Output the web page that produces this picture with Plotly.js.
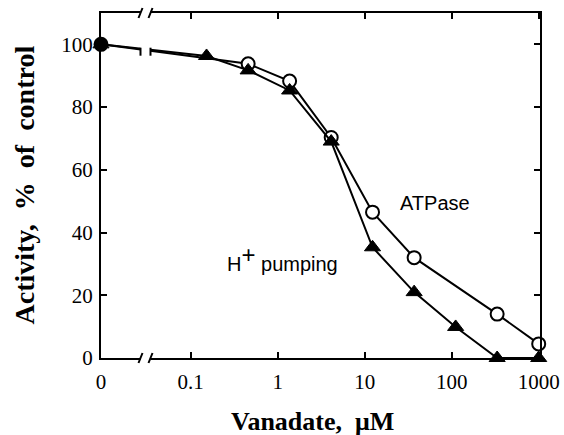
<!DOCTYPE html>
<html>
<head>
<meta charset="utf-8">
<script src="https://cdn.plot.ly/plotly-3.0.1.min.js"></script>
<style>html,body{margin:0;padding:0;background:#fff;}#chart{width:564px;height:435px;}</style>
</head>
<body>
<div id="chart"></div>
<script>
// Data (vanadate concentration in µM; 0 = control)
const atpaseX = [0, 0.457, 1.37, 4.12, 12.3, 37, 333, 1000];
const atpaseY = [100, 93.8, 88.3, 70.3, 46.5, 32.0, 14.0, 4.5];
const pumpX = [0, 0.152, 0.457, 1.37, 4.12, 12.3, 37, 111, 333, 1000];
const pumpY = [100, 96.3, 91.7, 85.3, 69.0, 35.3, 21.0, 9.9, 0, 0];
const xTickVals = [0, 0.1, 1, 10, 100, 1000];
const xTickText = ['0', '0.1', '1', '10', '100', '1000'];
const yTickVals = [0, 20, 40, 60, 80, 100];

// placement of "0" on the log axis (broken axis)
const ZERO_X = 0.0093;
const mapX = v => v === 0 ? ZERO_X : v;
const r0 = Math.log10(ZERO_X), r1 = 3.015;
const BREAK_LOG = -1.52;

const W = 564, H = 435, M = {l: 101, r: 24, t: 13, b: 77};
const PW = W - M.l - M.r, PH = H - M.t - M.b;
const px = lg => (lg - r0) / (r1 - r0);          // log value -> paper x
const dxp = p => p / PW, dyp = p => p / PH;       // pixel offsets -> paper

const font = 'Liberation Serif, Times New Roman, serif';
const sans = 'Liberation Sans, Arial, Helvetica, sans-serif';

const traces = [
  {
    x: atpaseX.map(mapX), y: atpaseY, type: 'scatter', mode: 'lines+markers',
    line: {color: '#000', width: 2},
    marker: {symbol: 'circle', size: 13,
      color: atpaseX.map(v => v === 0 ? '#000' : '#fff'),
      line: {color: '#000', width: 2}},
    cliponaxis: false, showlegend: false, hoverinfo: 'skip'
  },
  {
    x: pumpX.map(mapX), y: pumpY, type: 'scatter', mode: 'lines+markers',
    line: {color: '#000', width: 2},
    marker: {symbol: 'triangle-up', size: 14, color: '#000',
      line: {color: '#000', width: 1}},
    cliponaxis: false, showlegend: false, hoverinfo: 'skip'
  }
];

// break marks
const bx = px(BREAK_LOG);
const gapHalf = dxp(5);
const shapes = [];
function addAxisBreak(yPaper) {
  shapes.push({type: 'rect', xref: 'paper', yref: 'paper',
    x0: bx - gapHalf, x1: bx + gapHalf, y0: yPaper - dyp(4), y1: yPaper + dyp(4),
    fillcolor: '#fff', line: {width: 0}, layer: 'above'});
  [-1, 1].forEach(s => {
    const cx = bx + s * gapHalf;
    shapes.push({type: 'line', xref: 'paper', yref: 'paper',
      x0: cx - dxp(2), y0: yPaper - dyp(5), x1: cx + dxp(2), y1: yPaper + dyp(5),
      line: {color: '#000', width: 2}, layer: 'above'});
  });
}
addAxisBreak(0);
addAxisBreak(1);
// break on the data line (between 0 and the first nonzero point)
(function () {
  const yp = 98.3 / 110;
  shapes.push({type: 'rect', xref: 'paper', yref: 'paper',
    x0: bx - gapHalf, x1: bx + gapHalf, y0: yp - dyp(6), y1: yp + dyp(6),
    fillcolor: '#fff', line: {width: 0}, layer: 'above'});
  [-1, 1].forEach(s => {
    const cx = bx + s * gapHalf;
    shapes.push({type: 'line', xref: 'paper', yref: 'paper',
      x0: cx, y0: yp + dyp(2), x1: cx, y1: yp - dyp(6),
      line: {color: '#000', width: 2}, layer: 'above'});
  });
})();

const layout = {
  width: W, height: H,
  margin: M,
  paper_bgcolor: '#fff', plot_bgcolor: '#fff',
  showlegend: false,
  xaxis: {
    type: 'log', range: [r0, r1],
    tickvals: xTickVals.map(mapX), ticktext: xTickText,
    ticks: 'inside', ticklen: 6, tickwidth: 2, tickcolor: '#000',
    showline: true, linewidth: 2, linecolor: '#000', mirror: 'ticks',
    showgrid: false, zeroline: false,
    tickfont: {family: font, size: 21, color: '#000'},
    ticklabelstandoff: 4
  },
  yaxis: {
    range: [0, 110],
    tickvals: yTickVals,
    ticks: 'inside', ticklen: 6, tickwidth: 2, tickcolor: '#000',
    showline: true, linewidth: 2, linecolor: '#000', mirror: 'ticks',
    showgrid: false, zeroline: false,
    tickfont: {family: font, size: 21, color: '#000'},
    ticklabelstandoff: 2
  },
  annotations: [
    {x: (312 - M.l) / PW, y: -(421 - (H - M.b)) / PH, xref: 'paper', yref: 'paper',
     text: '<b>Vanadate,  μM</b>', showarrow: false, xanchor: 'center', yanchor: 'middle',
     font: {family: font, size: 26, color: '#000'}},
    {x: (24 - M.l) / PW, y: 0.5, xref: 'paper', yref: 'paper', textangle: -90,
     text: '<b>Activity,  %  of  control</b>', showarrow: false, xanchor: 'center', yanchor: 'middle',
     font: {family: font, size: 28, color: '#000'}},
    {x: Math.log10(65), y: 49.4, xref: 'x', yref: 'y', text: 'ATPase', showarrow: false,
     xanchor: 'center', yanchor: 'middle', font: {family: sans, size: 20, color: '#000'}},
    {x: Math.log10(1.13), y: 31.8, xref: 'x', yref: 'y',
     text: 'H<sup><span style="font-size:24px">+</span></sup> pumping', showarrow: false,
     xanchor: 'center', yanchor: 'middle', font: {family: sans, size: 20, color: '#000'}}
  ],
  shapes: shapes
};

Plotly.newPlot('chart', traces, layout, {staticPlot: true, displayModeBar: false});
</script>
</body>
</html>
